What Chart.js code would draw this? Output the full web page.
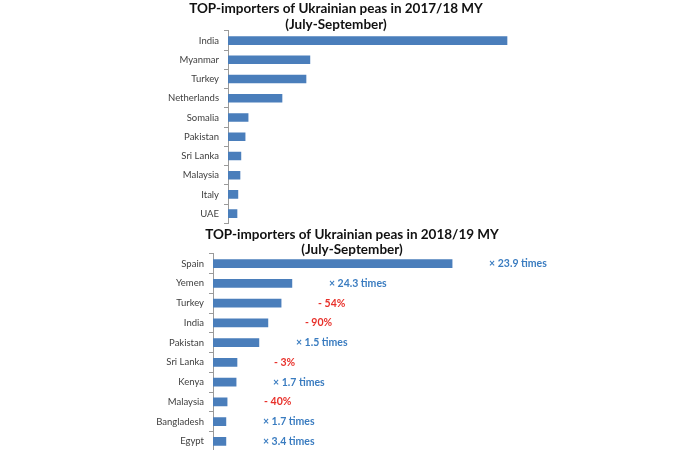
<!DOCTYPE html>
<html>
<head>
<meta charset="utf-8">
<script src="https://cdn.jsdelivr.net/npm/chart.js@4.4.0/dist/chart.umd.min.js"></script>
<style>
  body { margin: 0; background: #fff; width: 695px; height: 450px; overflow: hidden; position: relative; }
  .caja { position: absolute; }
  #cajaArriba { left: 144px; top: 0; width: 396px; height: 234px; }
  #cajaAbajo { left: 140px; top: 225px; width: 470px; height: 237px; }
</style>
</head>
<body>
<div class="caja" id="cajaArriba"><canvas id="graficoArriba"></canvas></div>
<div class="caja" id="cajaAbajo"><canvas id="graficoAbajo"></canvas></div>
<script>
// 2017/18 MY (July-September)
const paises1718 = ['India', 'Myanmar', 'Turkey', 'Netherlands', 'Somalia', 'Pakistan', 'Sri Lanka', 'Malaysia', 'Italy', 'UAE'];
const valores1718 = [93, 27.3, 26, 18, 6.7, 5.7, 4.3, 4, 3.3, 3];

// 2018/19 MY (July-September)
const paises1819 = ['Spain', 'Yemen', 'Turkey', 'India', 'Pakistan', 'Sri Lanka', 'Kenya', 'Malaysia', 'Bangladesh', 'Egypt'];
const valores1819 = [79.7, 26.3, 22.7, 18.3, 15.3, 8, 7.7, 4.7, 4.3, 4.3];
const cambios1819 = ['× 23.9 times', '× 24.3 times', '- 54%', '- 90%', '× 1.5 times', '- 3%', '× 1.7 times', '- 40%', '× 1.7 times', '× 3.4 times'];

const colorBarra = '#4a7ebb';
const fuente = 'Lato, "Liberation Sans", sans-serif';

// Etiquetas de cambio a la derecha de cada barra
const pluginCambios = {
    id: 'cambios',
    afterDatasetsDraw(chart, args, opts) {
        if (!opts.textos) return;
        const ctx = chart.ctx;
        const barras = chart.getDatasetMeta(0).data;
        ctx.save();
        ctx.font = 'bold 10.5px ' + fuente;
        ctx.textBaseline = 'middle';
        ctx.textAlign = 'left';
        barras.forEach((barra, i) => {
            const texto = opts.textos[i];
            ctx.fillStyle = texto.charAt(0) === '-' ? '#e8302a' : '#3a7cc0';
            ctx.fillText(texto, barra.x + 37, barra.y);
        });
        ctx.restore();
    }
};

function crearGrafico(id, titulo, etiquetas, valores, maximo, anchoEje, padDerecha, tituloAlto, tituloPad, textos) {
    const ctx = document.getElementById(id).getContext('2d');
    new Chart(ctx, {
        type: 'bar',
        data: {
            labels: etiquetas,
            datasets: [{
                data: valores,
                backgroundColor: colorBarra,
                barThickness: 8
            }]
        },
        plugins: [pluginCambios],
        options: {
            indexAxis: 'y',
            responsive: true,
            maintainAspectRatio: false,
            animation: false,
            layout: { padding: { top: 0, right: padDerecha, bottom: 3, left: 0 } },
            plugins: {
                legend: { display: false },
                tooltip: { enabled: false },
                title: {
                    display: true,
                    text: titulo,
                    color: '#111',
                    font: { family: fuente, size: 13.5, weight: 'bold', lineHeight: tituloAlto },
                    padding: tituloPad
                },
                cambios: { textos: textos }
            },
            scales: {
                x: {
                    display: false,
                    min: 0,
                    max: maximo
                },
                y: {
                    afterFit(scale) { scale.width = anchoEje; },
                    grid: {
                        drawOnChartArea: false,
                        drawTicks: true,
                        tickLength: 4,
                        color: '#9a9a9a'
                    },
                    border: { display: true, color: '#9a9a9a' },
                    ticks: {
                        color: '#404040',
                        padding: 5,
                        font: { family: fuente, size: 9.5 }
                    }
                }
            }
        }
    });
}

crearGrafico('graficoArriba', ['TOP-importers of Ukrainian peas in 2017/18 MY', '(July-September)'],
    paises1718, valores1718, 100, 84, 12, 1.22, { top: 0, bottom: -2 }, null);
crearGrafico('graficoAbajo', ['TOP-importers of Ukrainian peas in 2018/19 MY', '(July-September)'],
    paises1819, valores1819, 117, 73, 46, 1.14, { top: 2, bottom: -4 }, cambios1819);
</script>
</body>
</html>
